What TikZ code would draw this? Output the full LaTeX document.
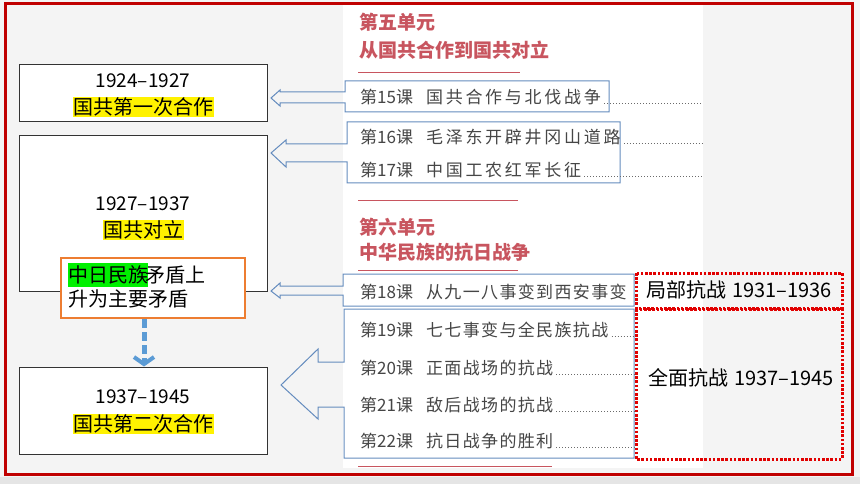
\documentclass[tikz,border=0pt]{standalone}
\usepackage{fontspec}
\setmainfont{Noto Sans CJK SC}
\usetikzlibrary{arrows.meta,calc}
\definecolor{framered}{RGB}{192,0,0}
\definecolor{hdrred}{RGB}{200,85,95}
\definecolor{lessongray}{RGB}{70,70,70}
\definecolor{callblue}{RGB}{100,140,190}
\definecolor{dashblue}{RGB}{91,155,213}
\definecolor{orangeb}{RGB}{237,125,49}
\definecolor{bgpaper}{RGB}{244,244,244}
\definecolor{dotred}{RGB}{225,0,0}
\definecolor{hlgreen}{RGB}{0,240,0}
\newcommand{\lsnwide}[2]{第#1课\hspace{13pt}{\addfontfeature{LetterSpace=16}#2}}
\newcommand{\lsnnarrow}[2]{第#1课\hspace{13pt}{\addfontfeature{LetterSpace=8}#2}}
\tikzset{
  period/.style={draw=black!80,line width=1pt,fill=white},
  yearlbl/.style={font=\fontsize{19}{21}\selectfont,inner sep=0pt},
  hltxt/.style={font=\fontsize{20}{22}\selectfont,fill=yellow,inner sep=0.5pt},
  hdrtxt/.style={anchor=west,text=hdrred,font=\bfseries\fontsize{19}{21}\selectfont,inner sep=0pt},
  hdrline/.style={draw=hdrred,line width=1pt},
  lessontxt/.style={anchor=west,text=lessongray,inner sep=0pt,font=\fontsize{17}{19}\selectfont},
  leader/.style={draw=lessongray!80,line width=0.8pt,dash pattern=on 0.8pt off 2.2pt,shorten <=3pt},
  callout/.style={draw=callblue,line width=1pt},
  redbox/.style={draw=dotred,line width=3pt,dash pattern=on 2.6pt off 1.6pt},
  redtxt/.style={anchor=west,font=\fontsize{20}{22}\selectfont,inner sep=0pt},
}
\begin{document}
\begin{tikzpicture}[x=1pt,y=-1pt]
\useasboundingbox (0,0) rectangle (860,484);
% background
\fill[bgpaper] (0,0) rectangle (860,484);
\fill[black!10] (0,477) rectangle (860,484);
\fill[white] (343,5) rectangle (703,468);
\draw[framered,line width=3pt] (5,4) rectangle (852,474);

% section headers
\node[hdrtxt] (u5) at (359,22) {第五单元};
\node[hdrtxt] (u5t) at (359,50) {从国共合作到国共对立};
\draw[hdrline] (358,73) -- (520,73);
\draw[hdrline] (358,201) -- (518,201);
\node[hdrtxt] (u6) at (359,227) {第六单元};
\node[hdrtxt] (u6t) at (359,252) {中华民族的抗日战争};
\draw[hdrline] (358,270) -- (518,270);
\draw[hdrline] (358,466) -- (552,466);

% callout arrows with lesson boxes
\draw[callout] (609,81) -- (345,81) -- (345,92) -- (280,92) -- (280,90) -- (271,98) -- (280,106) -- (280,103) -- (345,103) -- (345,112) -- (609,112) -- cycle;
\draw[callout] (620,122) -- (347,122) -- (347,144) -- (286,144) -- (286,140) -- (271,153) -- (286,167) -- (286,162) -- (347,162) -- (347,183) -- (620,183) -- cycle;
\draw[callout] (634,274) -- (343,274) -- (343,286) -- (280,286) -- (280,283) -- (271,291) -- (280,298) -- (280,295) -- (343,295) -- (343,306) -- (634,306) -- cycle;
\draw[callout] (634,309) -- (344,309) -- (344,362) -- (318,362) -- (318,349) -- (281,385) -- (318,419) -- (318,407) -- (344,407) -- (344,458) -- (634,458) -- cycle;

% lessons
\coordinate (dotend) at (703,0);
\node[lessontxt] (l15) at (360,97) {\lsnwide{15}{国共合作与北伐战争}};
\node[lessontxt] (l16) at (360,137) {\lsnwide{16}{毛泽东开辟井冈山道路}};
\node[lessontxt] (l17) at (360,170) {\lsnwide{17}{中国工农红军长征}};
\node[lessontxt] (l18) at (360,292) {\lsnnarrow{18}{从九一八事变到西安事变}};
\node[lessontxt] (l19) at (360,330) {\lsnnarrow{19}{七七事变与全民族抗战}};
\node[lessontxt] (l20) at (360,368) {\lsnnarrow{20}{正面战场的抗战}};
\node[lessontxt] (l21) at (360,405) {\lsnnarrow{21}{敌后战场的抗战}};
\node[lessontxt] (l22) at (360,441) {\lsnnarrow{22}{抗日战争的胜利}};
\foreach \l in {l15,l16,l17}{
  \draw[leader] (\l.base east) -- (\l.base east -| dotend);
}
\coordinate (dotend2) at (636,0);
\foreach \l in {l19,l20,l21,l22}{
  \draw[leader] (\l.base east) -- (\l.base east -| dotend2);
}

% red dotted period boxes
\draw[redbox] (636,273) rectangle (842,308);
\draw[redbox] (636,309) rectangle (842,459);
\node[redtxt] (p1) at (646,290) {局部抗战\hspace{6pt}1931–1936};
\node[redtxt] (p2) at (648,378) {全面抗战\hspace{6pt}1937–1945};

% left period boxes
\draw[period] (19,65) rectangle (267,122);
\node[yearlbl] (y1) at (143,81) {1924–1927};
\node[hltxt] (h1) at (143,107) {国共第一次合作};

\draw[period] (19,136) rectangle (267,291);
\node[yearlbl] (y2) at (143,204) {1927–1937};
\node[hltxt] (h2) at (143,230) {国共对立};

\node[draw=orangeb,line width=2pt,fill=white,minimum width=184pt,minimum height=60pt,inner sep=0pt] (ob) at (153,288) {};
\node[anchor=west,font=\fontsize{20}{22}\selectfont,inner sep=0pt] (o1) at (68,275) {\colorbox{hlgreen}{\hspace{-3pt}中日民族\hspace{-3pt}}\hspace{-3pt}矛盾上};
\node[anchor=west,font=\fontsize{20}{22}\selectfont,inner sep=0pt] (o2) at (68,299) {升为主要矛盾};

\node[period,minimum width=248pt,minimum height=87pt,inner sep=0pt] (b3) at (143,410.5) {};
\node[yearlbl] (y3) at (143,397) {1937–1945};
\node[hltxt] (h3) at (143,424) {国共第二次合作};

\draw[dashblue,line width=5pt,dash pattern=on 9pt off 4pt,-{Straight Barb[length=7pt,width=20pt,line width=4pt]}] (ob.south -| 144,0) -- (b3.north -| 144,0);
\end{tikzpicture}
\end{document}
